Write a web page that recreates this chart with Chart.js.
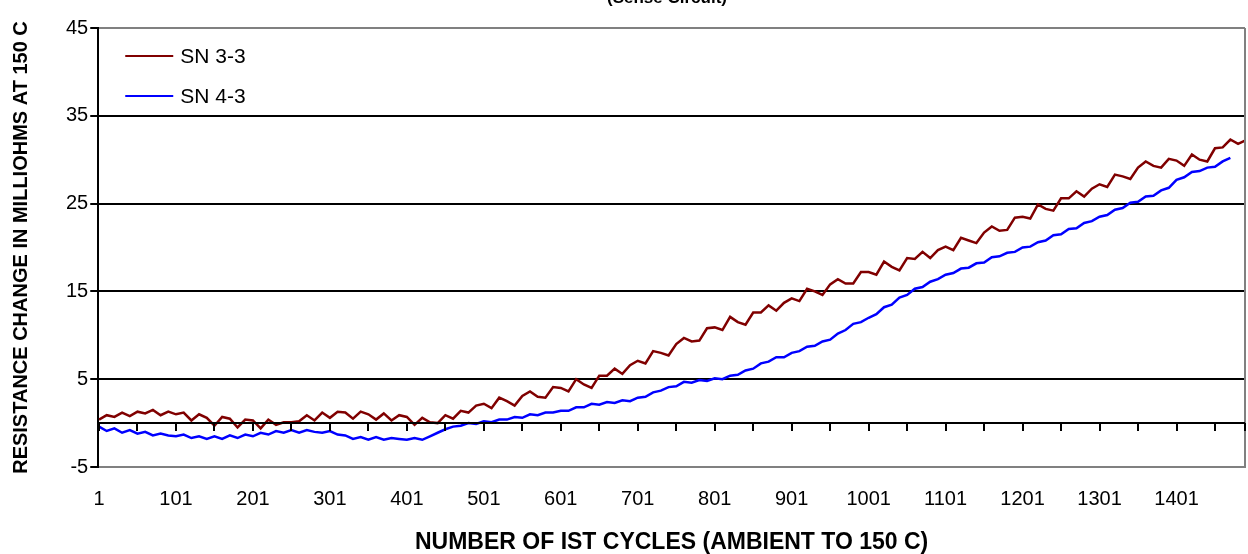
<!DOCTYPE html>
<html>
<head>
<meta charset="utf-8">
<script src="https://cdn.jsdelivr.net/npm/chart.js@4"></script>
<style>
  html, body { margin: 0; padding: 0; background: #fff; }
</style>
</head>
<body>
<canvas id="chart" width="1248" height="554"></canvas>
<script>
// cycles are sampled every 10, starting at cycle 1
const firstCycle = 1;
const cycleStep = 10;

const sn33 = [
  0.4, 0.9, 0.7, 1.2, 0.8, 1.3, 1.1, 1.5, 0.9, 1.3,
  1.0, 1.2, 0.3, 1.0, 0.6, -0.3, 0.7, 0.5, -0.5, 0.4,
  0.3, -0.6, 0.4, -0.2, 0.1, 0.1, 0.2, 0.9, 0.3, 1.2,
  0.6, 1.3, 1.2, 0.5, 1.3, 1.0, 0.4, 1.1, 0.3, 0.9,
  0.7, -0.2, 0.6, 0.1, 0.0, 0.9, 0.5, 1.4, 1.2, 2.0,
  2.2, 1.7, 2.9, 2.5, 2.0, 3.1, 3.6, 3.0, 2.9, 4.1,
  4.0, 3.6, 5.0, 4.4, 4.0, 5.4, 5.4, 6.2, 5.6, 6.6,
  7.1, 6.8, 8.2, 8.0, 7.7, 9.0, 9.7, 9.3, 9.4, 10.8,
  10.9, 10.6, 12.1, 11.5, 11.2, 12.6, 12.6, 13.4, 12.8, 13.7,
  14.2, 13.9, 15.3, 15.0, 14.6, 15.8, 16.4, 15.9, 15.9, 17.2,
  17.2, 16.9, 18.4, 17.8, 17.4, 18.8, 18.7, 19.5, 18.8, 19.7,
  20.1, 19.7, 21.1, 20.8, 20.5, 21.7, 22.4, 21.9, 22.0, 23.4,
  23.5, 23.3, 24.9, 24.4, 24.2, 25.6, 25.6, 26.4, 25.8, 26.7,
  27.2, 26.9, 28.3, 28.1, 27.8, 29.1, 29.8, 29.3, 29.1, 30.1,
  29.9, 29.3, 30.6, 30.0, 29.8, 31.3, 31.4, 32.3, 31.8, 32.2
];

const sn43 = [
  -0.4, -0.9, -0.6, -1.1, -0.8, -1.2, -1.0, -1.4, -1.2, -1.4,
  -1.5, -1.3, -1.7, -1.5, -1.8, -1.5, -1.8, -1.4, -1.7, -1.3,
  -1.5, -1.1, -1.3, -0.9, -1.1, -0.8, -1.1, -0.8, -1.0, -1.1,
  -0.9, -1.3, -1.4, -1.8, -1.6, -1.9, -1.6, -1.9, -1.7, -1.8,
  -1.9, -1.7, -1.9, -1.5, -1.1, -0.7, -0.4, -0.3, 0.0, -0.1,
  0.2, 0.1, 0.4, 0.4, 0.7, 0.6, 1.0, 0.9, 1.2, 1.2,
  1.4, 1.4, 1.8, 1.8, 2.2, 2.1, 2.4, 2.3, 2.6, 2.5,
  2.9, 3.0, 3.5, 3.7, 4.1, 4.2, 4.7, 4.6, 4.9, 4.8,
  5.1, 5.0, 5.4, 5.5, 6.0, 6.2, 6.8, 7.0, 7.5, 7.5,
  8.0, 8.2, 8.7, 8.8, 9.3, 9.5, 10.2, 10.6, 11.3, 11.5,
  12.0, 12.4, 13.2, 13.5, 14.3, 14.6, 15.3, 15.5, 16.1, 16.4,
  16.9, 17.1, 17.6, 17.7, 18.2, 18.3, 18.9, 19.0, 19.4, 19.5,
  20.0, 20.1, 20.6, 20.8, 21.4, 21.5, 22.1, 22.2, 22.8, 23.0,
  23.5, 23.7, 24.3, 24.5, 25.1, 25.2, 25.8, 25.9, 26.5, 26.8,
  27.7, 28.0, 28.6, 28.7, 29.1, 29.2, 29.8, 30.2
];

const xLabels = [1, 101, 201, 301, 401, 501, 601, 701, 801, 901, 1001, 1101, 1201, 1301, 1401];
const xMinorTicks = [1, 51, 101, 151, 201, 251, 301, 351, 401, 451, 501, 551, 601, 651, 701, 751,
  801, 851, 901, 951, 1001, 1051, 1101, 1151, 1201, 1251, 1301, 1351, 1401, 1451, 1490];
const yTicks = [-5, 5, 15, 25, 35, 45];

const toPoints = vals => vals.map((v, i) => ({ x: firstCycle + i * cycleStep, y: v }));

const FONT = '"Liberation Sans", Arial, sans-serif';

// zero line with small tick marks, the right border, legend and the clipped title
const extras = {
  id: 'extras',
  afterDatasetsDraw(chart) {
    const { ctx, chartArea: a, scales: { x, y } } = chart;
    ctx.save();
    // right border
    ctx.strokeStyle = '#808080';
    ctx.lineWidth = 2;
    ctx.beginPath();
    ctx.moveTo(a.right, a.top);
    ctx.lineTo(a.right, a.bottom);
    ctx.stroke();
    // zero line
    const y0 = y.getPixelForValue(0);
    ctx.strokeStyle = '#000';
    ctx.lineWidth = 2;
    ctx.beginPath();
    ctx.moveTo(a.left, y0);
    ctx.lineTo(a.right, y0);
    ctx.stroke();
    xMinorTicks.forEach(c => {
      const px = Math.round(x.getPixelForValue(c));
      ctx.beginPath();
      ctx.moveTo(px, y0);
      ctx.lineTo(px, y0 + 8);
      ctx.stroke();
    });
    // legend
    ctx.font = '21px ' + FONT;
    ctx.textBaseline = 'middle';
    chart.data.datasets.forEach((ds, i) => {
      const ly = a.top + 28 + i * 40;
      ctx.strokeStyle = ds.borderColor;
      ctx.lineWidth = 2;
      ctx.beginPath();
      ctx.moveTo(a.left + 27, ly);
      ctx.lineTo(a.left + 75, ly);
      ctx.stroke();
      ctx.fillStyle = '#000';
      ctx.fillText(ds.label, a.left + 82, ly + 1);
    });
    // title, cut at the top of the picture
    ctx.font = 'bold 17px ' + FONT;
    ctx.textAlign = 'center';
    ctx.textBaseline = 'alphabetic';
    ctx.fillText('(Sense Circuit)', 667, 3);
    ctx.restore();
  }
};

new Chart(document.getElementById('chart'), {
  type: 'line',
  data: {
    datasets: [
      { label: 'SN 3-3', data: toPoints(sn33), borderColor: '#800000', borderWidth: 2.5, pointRadius: 0, tension: 0 },
      { label: 'SN 4-3', data: toPoints(sn43), borderColor: '#0000ff', borderWidth: 2.5, pointRadius: 0, tension: 0 }
    ]
  },
  options: {
    responsive: false,
    animation: false,
    layout: { padding: { top: 28, right: 3, left: 0, bottom: 0 } },
    plugins: { legend: { display: false }, tooltip: { enabled: false } },
    scales: {
      x: {
        type: 'linear',
        min: 0,
        max: 1490,
        afterBuildTicks: s => { s.ticks = xLabels.map(v => ({ value: v })); },
        grid: { display: false, drawTicks: false },
        border: { display: true, color: '#808080', width: 2 },
        ticks: {
          color: '#000', font: { family: FONT, size: 20 }, padding: 20,
          maxRotation: 0, autoSkip: false, callback: v => String(v)
        },
        title: {
          display: true,
          text: 'NUMBER OF IST CYCLES (AMBIENT TO 150 C)',
          color: '#000',
          font: { family: FONT, size: 23, weight: 'bold', lineHeight: 1 },
          padding: { top: 0, bottom: 0 }
        }
      },
      y: {
        min: -5,
        max: 45,
        afterBuildTicks: s => { s.ticks = yTicks.map(v => ({ value: v })); },
        grid: {
          color: c => (c.tick && (c.tick.value === 45 || c.tick.value === -5)) ? '#808080' : '#000',
          tickColor: '#000',
          lineWidth: 2,
          tickLength: 8
        },
        border: { display: true, color: '#000', width: 2 },
        ticks: { color: '#000', font: { family: FONT, size: 20 }, padding: 2, autoSkip: false },
        title: {
          display: true,
          text: 'RESISTANCE CHANGE IN MILLIOHMS AT 150 C',
          color: '#000',
          font: { family: FONT, size: 20, weight: 'bold' },
          padding: { top: 9, bottom: 31 }
        }
      }
    }
  },
  plugins: [extras]
});
</script>
</body>
</html>
